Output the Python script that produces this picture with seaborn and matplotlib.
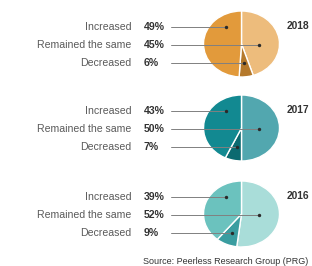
import matplotlib
matplotlib.use('Agg')
import matplotlib.pyplot as plt
import numpy as np
import pandas as pd
import seaborn as sns

# data
years = ['2018', '2017', '2016']
labels = ['Increased', 'Remained the same', 'Decreased']
increased = [49, 43, 39]
remained = [45, 50, 52]
decreased = [6, 7, 9]
source = 'Source: Peerless Research Group (PRG)'

# per-year colours: increased, remained, decreased
pal = {
    '2018': ['#E29A3B', '#EDBC7C', '#B5792C'],
    '2017': ['#128991', '#52A7AF', '#0C6A70'],
    '2016': ['#6BC2BE', '#A9DDD9', '#3A9DA0'],
}

sns.set_theme(style='white')
plt.rcParams['font.family'] = ['Liberation Sans', 'DejaVu Sans']

W, H = 312, 266
fig = plt.figure(figsize=(W / 100, H / 100), dpi=100)
fig.patch.set_facecolor('white')

row0 = [27, 111, 197]   # y of first label row per panel (px)
step = 18
cx, rx, ry = 241.5, 38, 33

ov = fig.add_axes([0, 0, 1, 1], zorder=5)
ov.patch.set_alpha(0)

dots = []
for i, yr in enumerate(years):
    inc, rem, dec = increased[i], remained[i], decreased[i]
    c_inc, c_rem, c_dec = pal[yr]
    cy = row0[i] + 17
    pa = fig.add_axes([(cx - rx) / W, 1 - (cy + ry) / H, 2 * rx / W, 2 * ry / H])
    # clockwise from top: remained, decreased, increased
    pa.pie([rem, dec, inc], colors=[c_rem, c_dec, c_inc], startangle=90,
           counterclock=False, radius=1,
           wedgeprops=dict(edgecolor='white', linewidth=1.0))
    pa.set_aspect('auto')
    pa.set_xlim(-1, 1)
    pa.set_ylim(-1, 1)
    pa.axis('off')

    ys = [row0[i] + k * step for k in range(3)]
    vals = [inc, rem, dec]
    # dot x for decreased: on the slice bisector at row height
    mid = np.deg2rad((rem + dec / 2) / 100 * 360)
    dy = (ys[2] - cy) / ry
    xd = dy / (-np.cos(mid)) * np.sin(mid)
    xs = [cx - 0.42 * rx, cx + 0.47 * rx, cx + xd * rx]
    for k in range(3):
        ov.text(131, ys[k], labels[k], ha='right', va='center', fontsize=7.6,
                color='#5a5a5a')
        ov.text(144, ys[k], f'{vals[k]}%', ha='left', va='center', fontsize=7.6,
                fontweight='bold', color='#333333')
        ov.plot([171, xs[k]], [ys[k], ys[k]], color='#808080', lw=0.7)
        dots.append((xs[k], ys[k]))
    ov.text(287, ys[0] - 1, yr, ha='left', va='center', fontsize=7.4,
            fontweight='bold', color='#333333')

dd = pd.DataFrame(dots, columns=['x', 'y'])
sns.scatterplot(data=dd, x='x', y='y', ax=ov, color='#2a2a2a', s=6,
                linewidth=0, legend=False, zorder=6)
ov.set_xlim(0, W)
ov.set_ylim(H, 0)
ov.axis('off')

ov.text(143, 261, source, ha='left', va='center', fontsize=6.5, color='#333333')

fig.savefig('out.png', dpi=100)
